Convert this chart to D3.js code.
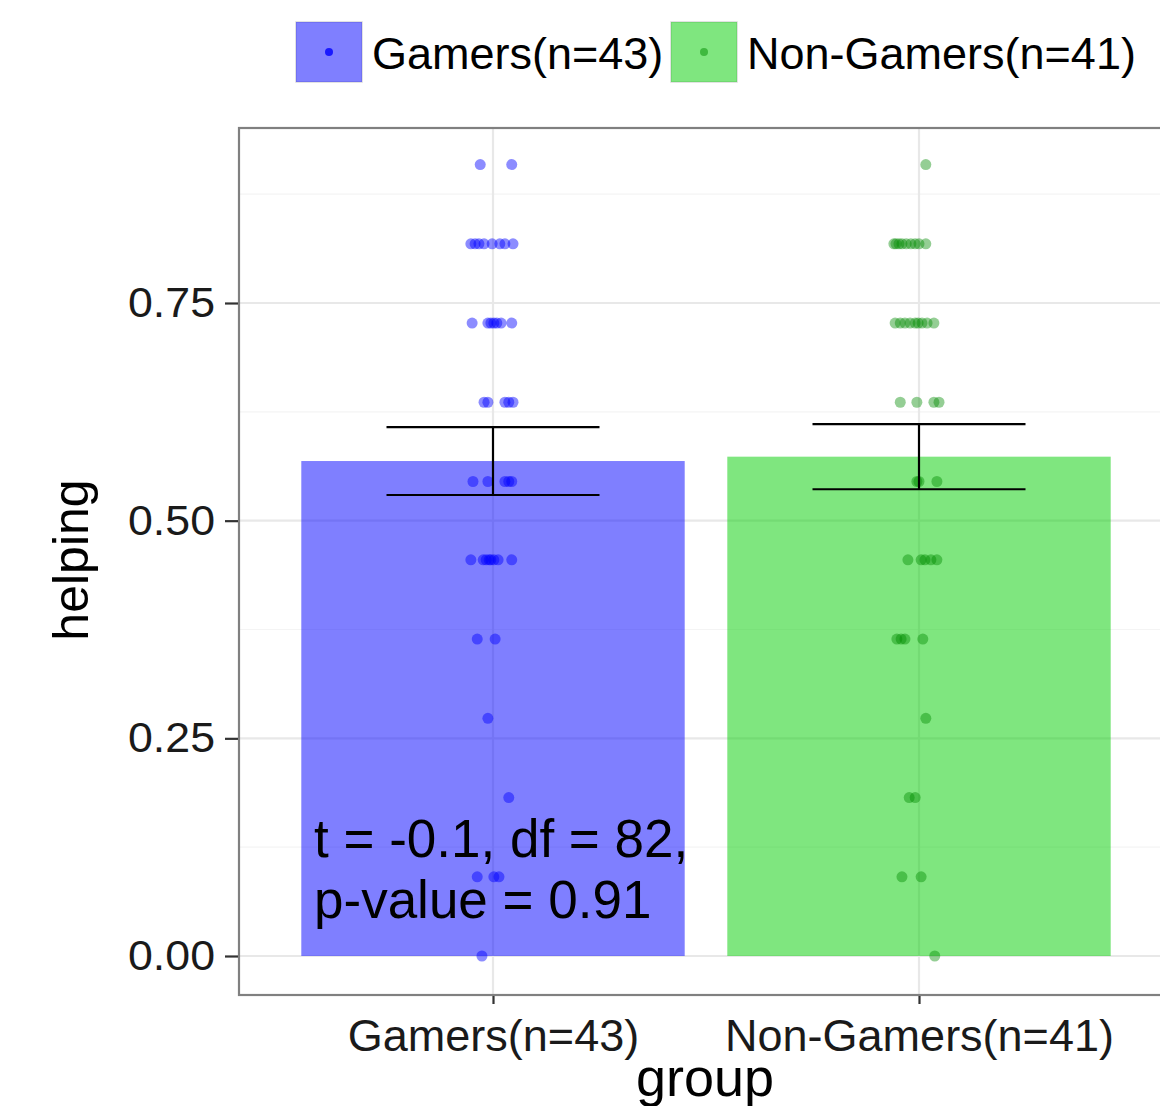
<!DOCTYPE html>
<html>
<head>
<meta charset="utf-8">
<script src="https://cdn.jsdelivr.net/npm/d3@7/dist/d3.min.js"></script>
<style>
  html, body { margin: 0; padding: 0; background: #ffffff; }
  svg { display: block; font-family: "Liberation Sans", Arial, Helvetica, sans-serif; }
</style>
</head>
<body>
<svg id="chart" width="1160" height="1106"></svg>
<script>
// ---------------- data ----------------
const categories = ["Gamers(n=43)", "Non-Gamers(n=41)"];
const meanHelping = [0.5685, 0.5735];
const seHelping = [0.039, 0.0374];

const gamersValues = [
  0.909, 0.909,
  0.818, 0.818, 0.818, 0.818, 0.818, 0.818, 0.818, 0.818,
  0.727, 0.727, 0.727, 0.727, 0.727, 0.727, 0.727,
  0.636, 0.636, 0.636, 0.636, 0.636,
  0.545, 0.545, 0.545, 0.545, 0.545,
  0.455, 0.455, 0.455, 0.455, 0.455, 0.455, 0.455, 0.455,
  0.364, 0.364,
  0.273,
  0.182,
  0.091, 0.091, 0.091,
  0
];
const gamersJitter = [
  -0.030, 0.044,
  -0.052, -0.042, -0.033, -0.021, -0.002, 0.016, 0.028, 0.047,
  -0.049, -0.012, -0.005, 0.002, 0.009, 0.019, 0.044,
  -0.021, -0.012, 0.028, 0.037, 0.047,
  -0.047, -0.012, 0.028, 0.037, 0.044,
  -0.052, -0.023, -0.016, -0.009, -0.005, 0.002, 0.012, 0.044,
  -0.037, 0.005,
  -0.012,
  0.037,
  -0.037, 0.002, 0.014,
  -0.026
];

const nonGamersValues = [
  0.909,
  0.818, 0.818, 0.818, 0.818, 0.818, 0.818, 0.818, 0.818, 0.818,
  0.727, 0.727, 0.727, 0.727, 0.727, 0.727, 0.727, 0.727, 0.727,
  0.636, 0.636, 0.636, 0.636,
  0.545, 0.545, 0.545,
  0.455, 0.455, 0.455, 0.455, 0.455,
  0.364, 0.364, 0.364, 0.364,
  0.273,
  0.182, 0.182,
  0.091, 0.091,
  0
];
const nonGamersJitter = [
  0.016,
  -0.059, -0.054, -0.047, -0.040, -0.030, -0.019, -0.009, 0.000, 0.016,
  -0.056, -0.044, -0.033, -0.021, -0.009, -0.002, 0.007, 0.019, 0.035,
  -0.044, -0.005, 0.035, 0.047,
  -0.005, 0.000, 0.042,
  -0.026, 0.005, 0.014, 0.028, 0.042,
  -0.052, -0.042, -0.033, 0.009,
  0.016,
  -0.023, -0.009,
  -0.040, 0.005,
  0.037
];

const yTicks = [0, 0.25, 0.5, 0.75];
const yTickLabels = ["0.00", "0.25", "0.50", "0.75"];
const yMinorTicks = [0.125, 0.375, 0.625, 0.875];
const annotationLines = ["t = -0.1, df = 82,", "p-value = 0.91"];
const xTitle = "group";
const yTitle = "helping";

// ---------------- styles ----------------
const barFill = ["#0000ff", "#00cd00"];
const dotFill = ["#0000ff", "#008b00"];

// ---------------- layout ----------------
const svg = d3.select("#chart");
const panel = { left: 239, top: 128, right: 1200, bottom: 995 };

const x = d3.scaleLinear().domain([1, 2]).range([493, 919]);
const y = d3.scaleLinear().domain([0, 0.75]).range([956, 303]);
const unit = x(2) - x(1);

svg.append("defs").append("clipPath").attr("id", "panelClip")
  .append("rect")
  .attr("x", panel.left).attr("y", panel.top)
  .attr("width", panel.right - panel.left).attr("height", panel.bottom - panel.top);

svg.append("rect")
  .attr("x", panel.left).attr("y", panel.top)
  .attr("width", panel.right - panel.left).attr("height", panel.bottom - panel.top)
  .attr("fill", "#ffffff");

const g = svg.append("g").attr("clip-path", "url(#panelClip)");

// grid
g.selectAll("line.minor").data(yMinorTicks).join("line")
  .attr("class", "minor")
  .attr("x1", panel.left).attr("x2", panel.right)
  .attr("y1", d => y(d)).attr("y2", d => y(d))
  .attr("stroke", "#f4f4f4").attr("stroke-width", 1.2);
g.selectAll("line.majorY").data(yTicks).join("line")
  .attr("class", "majorY")
  .attr("x1", panel.left).attr("x2", panel.right)
  .attr("y1", d => y(d)).attr("y2", d => y(d))
  .attr("stroke", "#e8e8e8").attr("stroke-width", 2.2);
g.selectAll("line.majorX").data([1, 2]).join("line")
  .attr("class", "majorX")
  .attr("x1", d => x(d)).attr("x2", d => x(d))
  .attr("y1", panel.top).attr("y2", panel.bottom)
  .attr("stroke", "#e8e8e8").attr("stroke-width", 2.2);

// bars
const barData = categories.map((c, i) => ({ i, mean: meanHelping[i], se: seHelping[i] }));
g.selectAll("rect.bar").data(barData).join("rect")
  .attr("class", "bar")
  .attr("x", d => x(d.i + 1 - 0.45))
  .attr("width", 0.9 * unit)
  .attr("y", d => y(d.mean))
  .attr("height", d => y(0) - y(d.mean))
  .attr("fill", d => barFill[d.i])
  .attr("fill-opacity", 0.5);

// points
const points = [];
gamersValues.forEach((v, k) => points.push({ i: 0, v, j: gamersJitter[k] }));
nonGamersValues.forEach((v, k) => points.push({ i: 1, v, j: nonGamersJitter[k] }));
g.selectAll("circle.pt").data(points).join("circle")
  .attr("class", "pt")
  .attr("cx", d => x(d.i + 1 + d.j))
  .attr("cy", d => y(d.v))
  .attr("r", 5.5)
  .attr("fill", d => dotFill[d.i])
  .attr("fill-opacity", d => d.i === 0 ? 0.45 : 0.42);

// error bars
const eb = g.selectAll("g.eb").data(barData).join("g").attr("class", "eb")
  .attr("stroke", "#000").attr("stroke-width", 2.2).attr("fill", "none");
eb.append("line")
  .attr("x1", d => x(d.i + 1)).attr("x2", d => x(d.i + 1))
  .attr("y1", d => y(d.mean + d.se)).attr("y2", d => y(d.mean - d.se));
eb.append("line")
  .attr("x1", d => x(d.i + 1 - 0.25)).attr("x2", d => x(d.i + 1 + 0.25))
  .attr("y1", d => y(d.mean + d.se)).attr("y2", d => y(d.mean + d.se));
eb.append("line")
  .attr("x1", d => x(d.i + 1 - 0.25)).attr("x2", d => x(d.i + 1 + 0.25))
  .attr("y1", d => y(d.mean - d.se)).attr("y2", d => y(d.mean - d.se));

// annotation
const ann = svg.append("text")
  .attr("x", 314).attr("y", 857)
  .attr("font-size", 53).attr("fill", "#000");
annotationLines.forEach((t, k) => {
  ann.append("tspan").attr("x", 314).attr("y", 857 + k * 61).text(t);
});

// panel border
svg.append("rect")
  .attr("x", panel.left).attr("y", panel.top)
  .attr("width", panel.right - panel.left).attr("height", panel.bottom - panel.top)
  .attr("fill", "none").attr("stroke", "#808080").attr("stroke-width", 2.2);

// y axis
const yAxis = svg.append("g").attr("transform", `translate(${panel.left - 1},0)`)
  .call(d3.axisLeft(y).tickValues(yTicks).tickFormat((d, k) => yTickLabels[k])
    .tickSize(13).tickPadding(10));
yAxis.select(".domain").remove();
yAxis.selectAll(".tick line").attr("stroke", "#333").attr("stroke-width", 2.2);
yAxis.selectAll(".tick text").attr("font-size", 42).attr("fill", "#1a1a1a")
  .attr("font-family", "'Liberation Sans', Arial, sans-serif")
  .attr("textLength", 87).attr("lengthAdjust", "spacingAndGlyphs");

// x axis
const xAxis = svg.append("g").attr("transform", `translate(0,${panel.bottom + 1})`)
  .call(d3.axisBottom(x).tickValues([1, 2]).tickFormat(d => categories[d - 1])
    .tickSize(8).tickPadding(15));
xAxis.select(".domain").remove();
xAxis.selectAll(".tick line").attr("stroke", "#333").attr("stroke-width", 2.2);
xAxis.selectAll(".tick text").attr("font-size", 45).attr("fill", "#1a1a1a")
  .attr("font-family", "'Liberation Sans', Arial, sans-serif");

// axis titles
svg.append("text")
  .attr("x", 705).attr("y", 1096)
  .attr("text-anchor", "middle").attr("font-size", 54).attr("fill", "#000")
  .text(xTitle);
svg.append("text")
  .attr("transform", "translate(88,560) rotate(-90)")
  .attr("text-anchor", "middle").attr("font-size", 50).attr("fill", "#000")
  .text(yTitle);

// legend
const legendX = [296, 671];
const legend = svg.append("g");
categories.forEach((c, i) => {
  const lg = legend.append("g").attr("transform", `translate(${legendX[i]},22)`);
  lg.append("rect").attr("width", 66).attr("height", 60)
    .attr("fill", "#ffffff").attr("stroke", "#d9d9d9").attr("stroke-width", 1.5);
  lg.append("rect").attr("width", 66).attr("height", 60)
    .attr("fill", barFill[i]).attr("fill-opacity", 0.5);
  lg.append("circle").attr("cx", 33).attr("cy", 30).attr("r", 4)
    .attr("fill", dotFill[i]).attr("fill-opacity", i === 0 ? 0.8 : 0.5);
  lg.append("text").attr("x", 76).attr("y", 47)
    .attr("font-size", 45).attr("fill", "#000").text(c);
});
</script>
</body>
</html>
